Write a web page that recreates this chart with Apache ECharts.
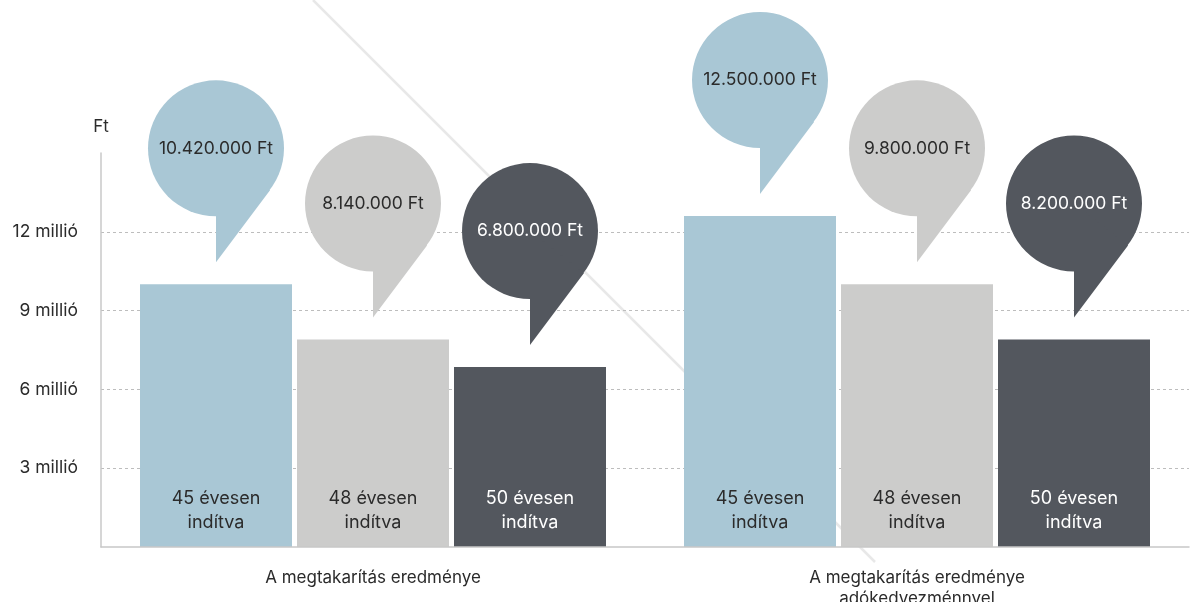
<!DOCTYPE html>
<html>
<head>
<meta charset="utf-8">
<script src="https://cdn.jsdelivr.net/npm/echarts@6/dist/echarts.min.js"></script>
<style>
  html, body { margin: 0; padding: 0; background: #ffffff; }
  #chart { width: 1200px; height: 602px; }
</style>
</head>
<body>
<div id="chart"></div>
<script>
// ---- data ----
const categories = ['A megtakarítás eredménye', 'A megtakarítás eredménye\nadókedvezménnyel'];
const seriesNames = ['45 évesen\nindítva', '48 évesen\nindítva', '50 évesen\nindítva'];
// bar heights in million Ft
const bar45 = [10.0, 12.6];
const bar48 = [7.9, 10.0];
const bar50 = [6.85, 7.9];
// bubble labels
const bubble45 = ['10.420.000 Ft', '12.500.000 Ft'];
const bubble48 = ['8.140.000 Ft', '9.800.000 Ft'];
const bubble50 = ['6.800.000 Ft', '8.200.000 Ft'];
const yTicks = { min: 0, max: 15, interval: 3 };

// ---- style ----
const colors = ['#a9c7d5', '#cccccb', '#53575e'];
const textColors = ['#2b2b2b', '#2b2b2b', '#ffffff'];
const FONT = 'Inter, "Noto Sans", sans-serif';
const BAR_W = 152, BAR_GAP = 5;

const barData = [bar45, bar48, bar50];
const bubbleData = [bubble45, bubble48, bubble50];

const chart = echarts.init(document.getElementById('chart'), null, { renderer: 'canvas' });

const barSeries = barData.map((vals, i) => ({
  type: 'bar',
  name: seriesNames[i],
  data: vals,
  barWidth: BAR_W,
  barGap: (BAR_GAP / BAR_W * 100) + '%',
  itemStyle: { color: colors[i] },
  z: 3,
  label: {
    show: true,
    position: 'insideBottom',
    distance: 12,
    formatter: () => seriesNames[i],
    color: textColors[i],
    fontFamily: FONT,
    fontSize: 18,
    lineHeight: 24,
    align: 'center'
  }
}));

const bubbleSeries = barData.map((vals, i) => ({
  type: 'custom',
  coordinateSystem: 'cartesian2d',
  z: 4,
  clip: false,
  data: vals.map((v, k) => [k, v]),
  renderItem: (params, api) => {
    const p = api.coord([api.value(0), api.value(1)]);
    const cx = p[0] + (i - 1) * (BAR_W + BAR_GAP);
    const tipY = p[1] - 22;
    const r = 68;
    const cy = tipY - 114;
    const label = bubbleData[i][params.dataIndex];
    return {
      type: 'group',
      children: [
        { type: 'circle', shape: { cx: cx, cy: cy, r: r }, style: { fill: colors[i] } },
        { type: 'polygon', shape: { points: [[cx, cy], [cx, tipY], [cx + 54, cy + 42]] }, style: { fill: colors[i] } },
        { type: 'text', style: { text: label, x: cx, y: cy, align: 'center', verticalAlign: 'middle', fill: textColors[i], font: '17.5px ' + FONT } }
      ]
    };
  }
}));

const option = {
  backgroundColor: '#ffffff',
  animation: false,
  grid: { left: 101, right: 11, top: 153, bottom: 55, containLabel: false, outerBoundsMode: 'none' },
  graphic: [{
    type: 'line',
    z: 0,
    shape: { x1: 313, y1: 0, x2: 875, y2: 562 },
    style: { stroke: '#e8e8e8', lineWidth: 2.5 }
  }],
  xAxis: {
    type: 'category',
    data: categories,
    axisTick: { show: false },
    axisLine: { lineStyle: { color: '#c8c8c8', width: 1.5 } },
    axisLabel: { margin: 20, color: '#2b2b2b', fontFamily: FONT, fontSize: 17, lineHeight: 21 },
    z: 5
  },
  yAxis: {
    type: 'value',
    min: yTicks.min,
    max: yTicks.max,
    interval: yTicks.interval,
    name: 'Ft',
    nameLocation: 'end',
    nameGap: 18,
    nameTextStyle: { color: '#2b2b2b', fontFamily: FONT, fontSize: 17, align: 'center' },
    axisLine: { show: true, lineStyle: { color: '#c8c8c8', width: 1.5 } },
    axisTick: { show: false },
    axisLabel: {
      margin: 23,
      color: '#2b2b2b',
      fontFamily: FONT,
      fontSize: 17.5,
      showMinLabel: false,
      showMaxLabel: false,
      formatter: v => v + ' millió'
    },
    splitLine: {
      show: true,
      showMinLine: false,
      showMaxLine: false,
      lineStyle: { color: '#bdbdbd', type: [3, 3], width: 1 }
    }
  },
  series: barSeries.concat(bubbleSeries)
};

chart.setOption(option);
</script>
</body>
</html>
